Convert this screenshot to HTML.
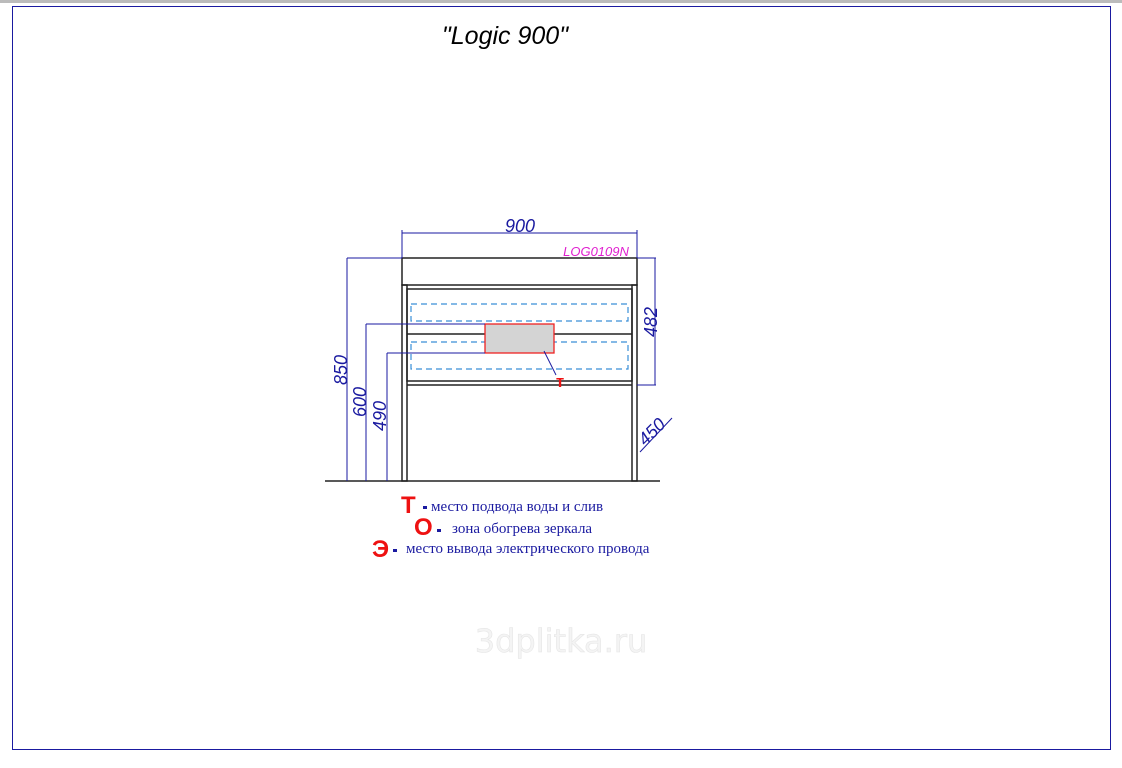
<!DOCTYPE html>
<html><head><meta charset="utf-8"><style>
body{margin:0;width:1122px;height:768px;background:#fff;overflow:hidden;position:relative}
</style></head><body>
<div style="position:absolute;left:0;top:0;width:1122px;height:3px;background:#bbb"></div>
<svg width="1122" height="768" style="position:absolute;left:0;top:0" font-family="Liberation Sans, sans-serif">
<rect x="12.5" y="6.5" width="1098" height="743" fill="none" stroke="#1a1aa0" stroke-width="1"/>
<text x="505" y="44" font-size="25" font-style="italic" text-anchor="middle" fill="#000">"Logic 900"</text>
<g fill="none" stroke="#222" stroke-width="1.5">
<rect x="402" y="258" width="235" height="27"/>
<rect x="402" y="285" width="5" height="196"/>
<rect x="632" y="285" width="5" height="196"/>
<rect x="407" y="289" width="225" height="92"/>
<line x1="407" y1="334" x2="632" y2="334"/>
<line x1="407" y1="385" x2="632" y2="385"/>
<line x1="325" y1="481" x2="660" y2="481"/>
</g>
<g fill="none" stroke="#3a8fd8" stroke-width="1.2" stroke-dasharray="6,4">
<rect x="411" y="304" width="217" height="17"/>
<rect x="411" y="342" width="217" height="27"/>
</g>
<rect x="485" y="324" width="69" height="29" fill="#d4d4d4" stroke="#e22" stroke-width="1.3"/>
<g stroke="#1a1aa0" stroke-width="1" fill="none">
<line x1="402" y1="233" x2="637" y2="233"/><line x1="402" y1="230" x2="402" y2="258"/><line x1="637" y1="230" x2="637" y2="258"/>
<line x1="347" y1="258" x2="402" y2="258"/><line x1="347" y1="258" x2="347" y2="481"/>
<line x1="366" y1="324" x2="485" y2="324"/><line x1="366" y1="324" x2="366" y2="481"/>
<line x1="387" y1="353" x2="485" y2="353"/><line x1="387" y1="353" x2="387" y2="481"/>
<line x1="637" y1="258" x2="656" y2="258"/><line x1="637" y1="385" x2="656" y2="385"/><line x1="655" y1="258" x2="655" y2="385"/>
<line x1="640" y1="452" x2="672" y2="418"/>
<line x1="544" y1="351" x2="556" y2="375"/>
</g>
<text x="520" y="232" font-size="18" font-style="italic" fill="#1a1aa0" text-anchor="middle">900</text>
<text x="596" y="256" font-size="13" font-style="italic" fill="#e020d0" text-anchor="middle">LOG0109N</text>
<text transform="translate(347,370) rotate(-90)" font-size="18" font-style="italic" fill="#1a1aa0" text-anchor="middle">850</text>
<text transform="translate(366,402) rotate(-90)" font-size="18" font-style="italic" fill="#1a1aa0" text-anchor="middle">600</text>
<text transform="translate(386,416) rotate(-90)" font-size="18" font-style="italic" fill="#1a1aa0" text-anchor="middle">490</text>
<text transform="translate(657,322) rotate(-90)" font-size="18" font-style="italic" fill="#1a1aa0" text-anchor="middle">482</text>
<text transform="translate(656,436) rotate(-45)" font-size="18" font-style="italic" fill="#1a1aa0" text-anchor="middle">450</text>
<text x="560" y="387" font-size="17" font-weight="bold" fill="#e11" text-anchor="middle">т</text>
<text x="401" y="513" font-size="24" font-weight="bold" fill="#e11">Т</text>
<rect x="423" y="506" width="4" height="3" fill="#1a1aa0"/>
<text x="431" y="511" font-size="15" font-family="Liberation Serif, serif" fill="#1a1aa0">место подвода воды и слив</text>
<text x="414" y="535" font-size="24" font-weight="bold" fill="#e11">О</text>
<rect x="437" y="529" width="4" height="3" fill="#1a1aa0"/>
<text x="452" y="533" font-size="15" font-family="Liberation Serif, serif" fill="#1a1aa0">зона обогрева зеркала</text>
<text x="372" y="557" font-size="24" font-weight="bold" fill="#e11">Э</text>
<rect x="393" y="549" width="4" height="3" fill="#1a1aa0"/>
<text x="406" y="553" font-size="15" font-family="Liberation Serif, serif" fill="#1a1aa0">место вывода электрического провода</text>
<text x="561" y="652" font-size="32" font-family="DejaVu Sans, sans-serif" fill="#f4f4f4" stroke="#e6e6e6" stroke-width="0.6" text-anchor="middle">3dplitka.ru</text>
</svg>
</body></html>
